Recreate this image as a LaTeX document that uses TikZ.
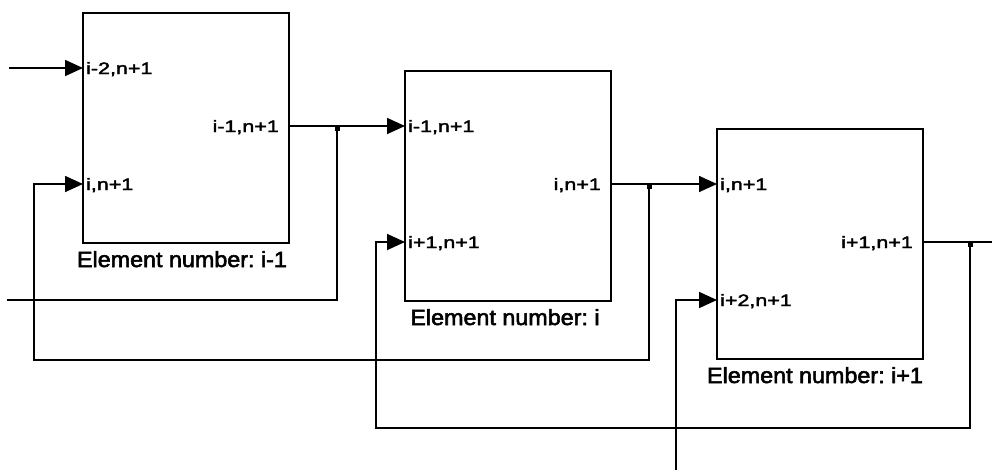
\documentclass[tikz,border=0pt]{standalone}
\usepackage{fontspec}
\usetikzlibrary{arrows.meta,calc}
\newfontfamily\portfont[FakeStretch=1.3,FakeBold=2.5]{Liberation Sans}
\newfontfamily\elfont[FakeStretch=1.06,FakeBold=2.5]{Liberation Sans}
\frenchspacing
\begin{document}
\begin{tikzpicture}[x=1pt,y=-1pt,
  blk/.style={draw, line width=1.7pt, minimum width=206pt, minimum height=230pt, inner sep=0pt, outer sep=0pt},
  wire/.style={line width=1.7pt},
  arr/.style={wire, -{Triangle[length=18pt,width=16pt]}},
  port/.style={inner sep=0pt, font=\portfont\fontsize{16.5}{18}\selectfont},
  elabel/.style={inner sep=0pt, anchor=base, font=\elfont\fontsize{22}{24}\selectfont},
  jdot/.style={fill=black, inner sep=0pt, minimum size=5pt}]
\useasboundingbox (0,0) rectangle (992,472);
% blocks
\node[blk] (b1) at (186,128) {};
\node[blk] (b2) at (508,186) {};
\node[blk] (b3) at (820,244) {};
% ports
\foreach \b in {b1,b2,b3}{
  \coordinate (\b i1) at ($(\b.north west)+(0,55)$);
  \coordinate (\b i2) at ($(\b.north west)+(0,171)$);
  \coordinate (\b o)  at ($(\b.north east)+(0,113)$);
}
% port labels
\node[port, anchor=base west] (t11) at ($(b1i1)+(3,6)$) {i-2,n+1};
\node[port, anchor=base west] (t12) at ($(b1i2)+(3,6)$) {i,n+1};
\node[port, anchor=base east] (t1o) at ($(b1o)+(-10,6)$) {i-1,n+1};
\node[port, anchor=base west] (t21) at ($(b2i1)+(3,6)$) {i-1,n+1};
\node[port, anchor=base west] (t22) at ($(b2i2)+(3,6)$) {i+1,n+1};
\node[port, anchor=base east] (t2o) at ($(b2o)+(-10,6)$) {i,n+1};
\node[port, anchor=base west] (t31) at ($(b3i1)+(3,6)$) {i,n+1};
\node[port, anchor=base west] (t32) at ($(b3i2)+(3,6)$) {i+2,n+1};
\node[port, anchor=base east] (t3o) at ($(b3o)+(-10,6)$) {i+1,n+1};
% element labels
\node[elabel] (e1) at ($(b1.south)+(-4,24)$) {Element number: i-1};
\node[elabel] (e2) at ($(b2.south)+(-3,24)$) {Element number: i};
\node[elabel] (e3) at ($(b3.south)+(-5,24)$) {Element number: i+1};
% free ends and bends
\coordinate (in0) at (9,68);
\coordinate (j1) at ($(b1o)+(48,0)$);
\coordinate (j2) at ($(b2o)+(38,0)$);
\coordinate (j3) at ($(b3o)+(47,0)$);
\coordinate (out1) at (7,300);
\coordinate (l2) at (34,360);
\coordinate (l3) at (376,428);
\coordinate (in3) at (676,470);
\coordinate (out3) at (992,242);
% connectors
\draw[arr] (in0) -- (b1i1);
\draw[arr] (b1o) -- (b2i1);
\draw[arr] (b2o) -- (b3i1);
\draw[wire] (b3o) -- (out3);
\draw[wire] (j1) |- (out1);
\draw[arr] (j2) |- (l2) |- (b1i2);
\draw[arr] (j3) |- (l3) |- (b2i2);
\draw[arr] (in3) |- (b3i2);
% junction dots
\node[jdot] (d1) at ($(j1)+(0,2)$) {};
\node[jdot] (d2) at ($(j2)+(0,2)$) {};
\node[jdot] (d3) at ($(j3)+(0,2)$) {};
\end{tikzpicture}
\end{document}
